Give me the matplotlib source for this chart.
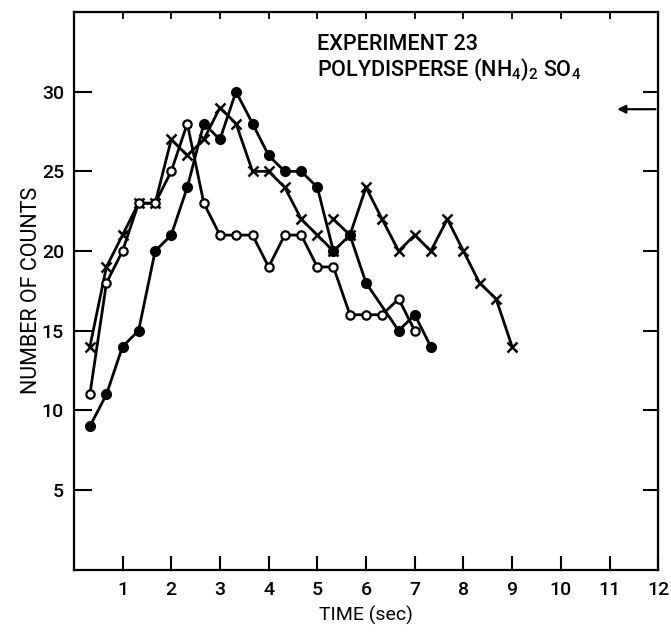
import numpy as np
import matplotlib
matplotlib.use("Agg")
import matplotlib.pyplot as plt

# ----------------------------------------------------------------------------------------------------------------------
# Datos (tiempo en s, numero de cuentas)

t_llenos = [0.33, 0.67, 1.0, 1.33, 1.67, 2.0, 2.33, 2.67, 3.0, 3.33, 3.67, 4.0, 4.33, 4.67, 5.0, 5.33, 5.67,
            6.0, 6.67, 7.0, 7.33]
n_llenos = [9, 11, 14, 15, 20, 21, 24, 28, 27, 30, 28, 26, 25, 25, 24, 20, 21, 18, 15, 16, 14]

t_abiertos = [0.33, 0.67, 1.0, 1.33, 1.67, 2.0, 2.33, 2.67, 3.0, 3.33, 3.67, 4.0, 4.33, 4.67, 5.0, 5.33, 5.67,
              6.0, 6.33, 6.67, 7.0]
n_abiertos = [11, 18, 20, 23, 23, 25, 28, 23, 21, 21, 21, 19, 21, 21, 19, 19, 16, 16, 16, 17, 15]

# la serie de cruces tiene un corte en 5.33 s (nan)
t_cruces = [0.33, 0.67, 1.0, 1.33, 1.67, 2.0, 2.33, 2.67, 3.0, 3.33, 3.67, 4.0, 4.33, 4.67, 5.0, 5.33, np.nan,
            5.33, 5.67, 6.0, 6.33, 6.67, 7.0, 7.33, 7.67, 8.0, 8.33, 8.67, 9.0]
n_cruces = [14, 19, 21, 23, 23, 27, 26, 27, 29, 28, 25, 25, 24, 22, 21, 20, np.nan,
            22, 21, 24, 22, 20, 21, 20, 22, 20, 18, 17, 14]

ticks_x = [1, 2, 3, 4, 5, 6, 7, 8, 9, 10, 11, 12]
ticks_y = [5, 10, 15, 20, 25, 30]
nivel_flecha = 28.9

# ----------------------------------------------------------------------------------------------------------------------

plt.rcParams['font.family'] = ['Roboto', 'Liberation Sans', 'DejaVu Sans']
plt.rcParams['font.weight'] = 'medium'
plt.rcParams['mathtext.fontset'] = 'custom'
plt.rcParams['mathtext.rm'] = 'Roboto:medium'

fig = plt.figure(figsize=(6.71, 6.33), dpi=100)
ax = fig.add_axes([0.110, 0.100, 0.871, 0.881])

lw = 2.0
ax.plot(t_llenos, n_llenos, color='black', lw=lw, marker='o', ms=7, mfc='black', mec='black', zorder=3)
ax.plot(t_abiertos, n_abiertos, color='black', lw=lw, marker='o', ms=6, mfc='white', mec='black', mew=1.6, zorder=4)
ax.plot(t_cruces, n_cruces, color='black', lw=lw, marker='x', ms=7, mew=1.8, zorder=2)

ax.set_xlim(0, 12)
ax.set_ylim(0, 35)
ax.set_xticks(ticks_x)
ax.set_yticks(ticks_y)
ax.tick_params(axis='both', direction='in', width=1.5, labelsize=14, colors='black')
ax.tick_params(axis='y', length=13, pad=7)
ax.tick_params(axis='x', length=10, pad=8)

for s in ax.spines.values():
    s.set_linewidth(1.6)

arriba = ax.secondary_xaxis('top')
arriba.set_xticks(ticks_x[:-1])
arriba.tick_params(direction='in', length=5, width=1.3, labeltop=False)
derecha = ax.secondary_yaxis('right')
derecha.set_yticks(ticks_y)
derecha.tick_params(direction='in', length=11, width=1.5, labelright=False)

ax.set_xlabel("TIME (sec)", fontsize=14, labelpad=5)
ax.set_ylabel("NUMBER OF COUNTS", fontsize=15.5, labelpad=0)

ax.text(5.0, 33.6, "EXPERIMENT 23\nPOLYDISPERSE (NH$_4$)$_2$ SO$_4$", fontsize=15.5, va='top', ha='left',
        linespacing=1.1)

ax.annotate('', xy=(11.1, nivel_flecha), xytext=(12, nivel_flecha),
            arrowprops=dict(arrowstyle='-|>', color='black', lw=1.6, mutation_scale=12))

fig.savefig("out.png", dpi=100)
